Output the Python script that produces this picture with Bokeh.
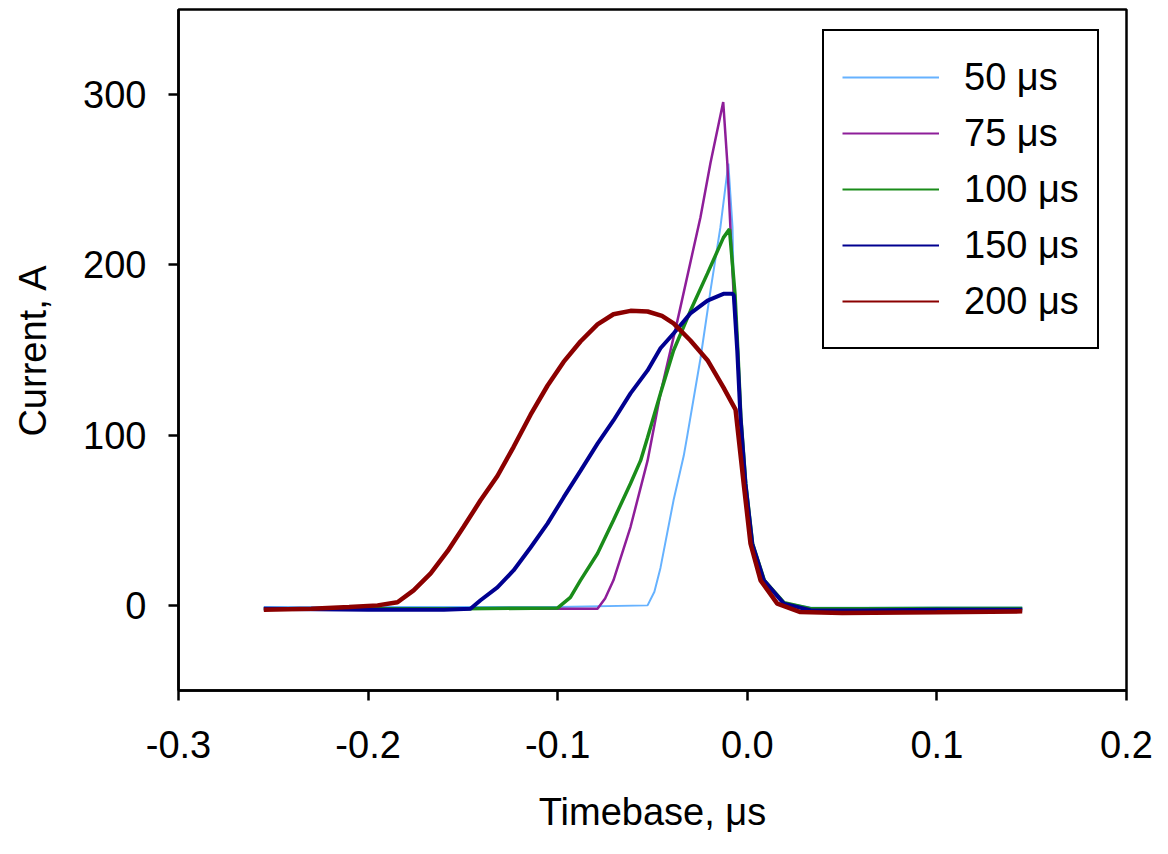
from bokeh.plotting import figure
from bokeh.models import Range1d, FixedTicker, CustomJSTickFormatter, Legend, LegendItem
from bokeh.embed import file_html
from bokeh.resources import INLINE

# ---------------- data ----------------
series_labels = ["50 \u03bcs", "75 \u03bcs", "100 \u03bcs", "150 \u03bcs", "200 \u03bcs"]
series_colors = ["#66B2FF", "#8E1E99", "#1A8C1A", "#000090", "#8B0000"]

t50 = [-0.255, -0.20, -0.15, -0.10, -0.0526, -0.0490, -0.0458, -0.0389, -0.0335, -0.0316,
       -0.0247, -0.0194, -0.0142, -0.0100, -0.0078, -0.0071, -0.0053, -0.0036, -0.0010,
       0.0026, 0.0087, 0.0193, 0.0333, 0.06, 0.10, 0.145]
i50 = [-1.0, -1.0, -1.0, -1.0, 0.0, 8.0, 22.0, 61.7, 88.0, 100.0,
       145.0, 185.0, 222.0, 259.5, 222.0, 182.0, 149.7, 110.6, 71.5,
       36.2, 14.7, 1.5, -1.2, -1.4, -1.2, -1.2]

t75 = [-0.255, -0.20, -0.15, -0.10, -0.079, -0.0750, -0.0706, -0.0616, -0.0526, -0.0458,
       -0.0367, -0.0247, -0.0194, -0.0127, -0.0106, -0.0071, -0.0053, -0.0036, -0.0010,
       0.0026, 0.0087, 0.0193, 0.0333, 0.06, 0.10, 0.145]
i75 = [-2.0, -2.0, -2.0, -2.0, -2.0, 4.0, 14.7, 46.0, 85.0, 124.5,
       168.0, 228.0, 260.0, 295.6, 261.0, 180.0, 149.7, 110.6, 71.5,
       36.2, 14.7, 1.2, -1.8, -2.0, -1.8, -1.8]

t100 = [-0.255, -0.20, -0.15, -0.100, -0.0933, -0.088, -0.079, -0.0706, -0.0616, -0.0563,
        -0.0526, -0.0458, -0.0389, -0.030, -0.021, -0.0126, -0.0094, -0.0065, -0.0050,
        -0.0034, -0.0008, 0.0028, 0.0090, 0.0195, 0.0333, 0.06, 0.10, 0.145]
i100 = [-2.0, -2.0, -2.0, -1.5, 4.7, 14.7, 30.5, 50.0, 71.6, 85.0,
        98.6, 124.5, 149.7, 173.0, 195.0, 216.0, 221.0, 183.0, 150.0,
        110.6, 71.5, 36.2, 14.7, 1.5, -2.0, -2.0, -1.8, -1.8]

t150 = [-0.255, -0.20, -0.16, -0.146, -0.1407, -0.1318, -0.1233, -0.1143, -0.1054, -0.0969,
        -0.088, -0.079, -0.0706, -0.0616, -0.0526, -0.0458, -0.0389, -0.030, -0.021,
        -0.0126, -0.0078, -0.0071, -0.0053, -0.0036, -0.0010, 0.0026, 0.0087, 0.0193,
        0.0333, 0.06, 0.10, 0.145]
i150 = [-2.0, -2.5, -2.5, -2.0, 3.0, 10.6, 20.5, 34.0, 48.0, 63.4,
        79.0, 95.0, 108.6, 124.5, 138.0, 151.0, 159.7, 171.5, 179.0,
        183.0, 183.0, 182.0, 149.7, 110.6, 71.5, 36.2, 14.7, 1.0,
        -2.9, -3.0, -2.5, -2.5]

t200 = [-0.255, -0.23, -0.21, -0.195, -0.1845, -0.176, -0.167, -0.158, -0.1497, -0.1407,
        -0.1318, -0.1233, -0.1143, -0.1054, -0.0969, -0.088, -0.079, -0.0706, -0.0616,
        -0.0526, -0.045, -0.0389, -0.030, -0.021, -0.0126, -0.0062, -0.0019, 0.0017, 0.0070,
        0.0158, 0.028, 0.05, 0.10, 0.145]
i200 = [-2.5, -2.0, -1.0, 0.0, 1.8, 8.8, 18.8, 32.0, 46.0, 61.7,
        76.0, 93.0, 112.0, 129.0, 143.0, 155.0, 165.0, 171.0, 173.0,
        172.6, 170.0, 165.6, 155.6, 144.0, 128.0, 115.0, 71.5, 36.2, 14.7,
        1.0, -3.9, -4.5, -4.0, -3.5]

x_ticks = [-0.3, -0.2, -0.1, 0.0, 0.1, 0.2]
x_tick_labels = ["-0.3", "-0.2", "-0.1", "0.0", "0.1", "0.2"]
y_ticks = [0, 100, 200, 300]

FONT = "Liberation Sans"
FS = "38px"

p = figure(width=1168, height=854,
           x_range=Range1d(-0.3, 0.2), y_range=Range1d(-50, 350),
           output_backend="svg", toolbar_location=None,
           min_border_left=178, min_border_right=42,
           min_border_top=9, min_border_bottom=164,
           background_fill_color="white", border_fill_color="white")

p.xgrid.visible = False
p.ygrid.visible = False
p.outline_line_color = "black"
p.outline_line_width = 2.5
p.outline_line_alpha = 1.0

series = [(t50, i50, 2.0), (t75, i75, 2.5), (t100, i100, 3.5), (t150, i150, 4.0), (t200, i200, 4.5)]
for (tx, iy, lw), col in zip(series, series_colors):
    p.line(tx, iy, line_color=col, line_width=lw)

# legend (thin sample lines; single-point renderers draw nothing in the plot)
items = []
for (tx, iy, lw), lab, col in zip(series, series_labels, series_colors):
    r = p.line(tx[:1], iy[:1], line_color=col, line_width=2)
    items.append(LegendItem(label=lab, renderers=[r]))
legend = Legend(items=items, location=(644, 341))
legend.label_text_font = FONT
legend.label_text_font_size = FS
legend.label_text_color = "black"
legend.border_line_color = "black"
legend.border_line_width = 2
legend.border_line_alpha = 1.0
legend.background_fill_color = "white"
legend.background_fill_alpha = 1.0
legend.padding = 18
legend.spacing = 0
legend.glyph_height = 56
legend.label_height = 56
legend.glyph_width = 97
legend.label_standoff = 25
legend.margin = 0
p.add_layout(legend)

# axes
for ax in (p.xaxis[0], p.yaxis[0]):
    ax.axis_line_width = 2.5
    ax.axis_line_color = "black"
    ax.major_tick_line_width = 2.5
    ax.major_tick_line_color = "black"
    ax.major_tick_in = 0
    ax.major_tick_out = 10
    ax.minor_tick_line_color = None
    ax.major_label_text_font = FONT
    ax.major_label_text_font_size = FS
    ax.major_label_text_color = "black"
    ax.axis_label_text_font = FONT
    ax.axis_label_text_font_size = FS
    ax.axis_label_text_font_style = "normal"
    ax.axis_label_text_color = "black"

p.xaxis.ticker = FixedTicker(ticks=x_ticks)
p.xaxis.formatter = CustomJSTickFormatter(args=dict(vals=x_ticks, labels=x_tick_labels), code="""
for (let i = 0; i < vals.length; i++) { if (Math.abs(vals[i] - tick) < 1e-9) return labels[i]; }
return tick.toFixed(1);
""")
p.yaxis.ticker = FixedTicker(ticks=y_ticks)
p.xaxis.axis_label = "Timebase, \u03bcs"
p.yaxis.axis_label = "Current, A"
p.xaxis.major_label_standoff = 30
p.xaxis.axis_label_standoff = 30
p.yaxis.major_label_standoff = 22
p.yaxis.axis_label_standoff = 26

open("out.html", "w").write(file_html(p, INLINE))
